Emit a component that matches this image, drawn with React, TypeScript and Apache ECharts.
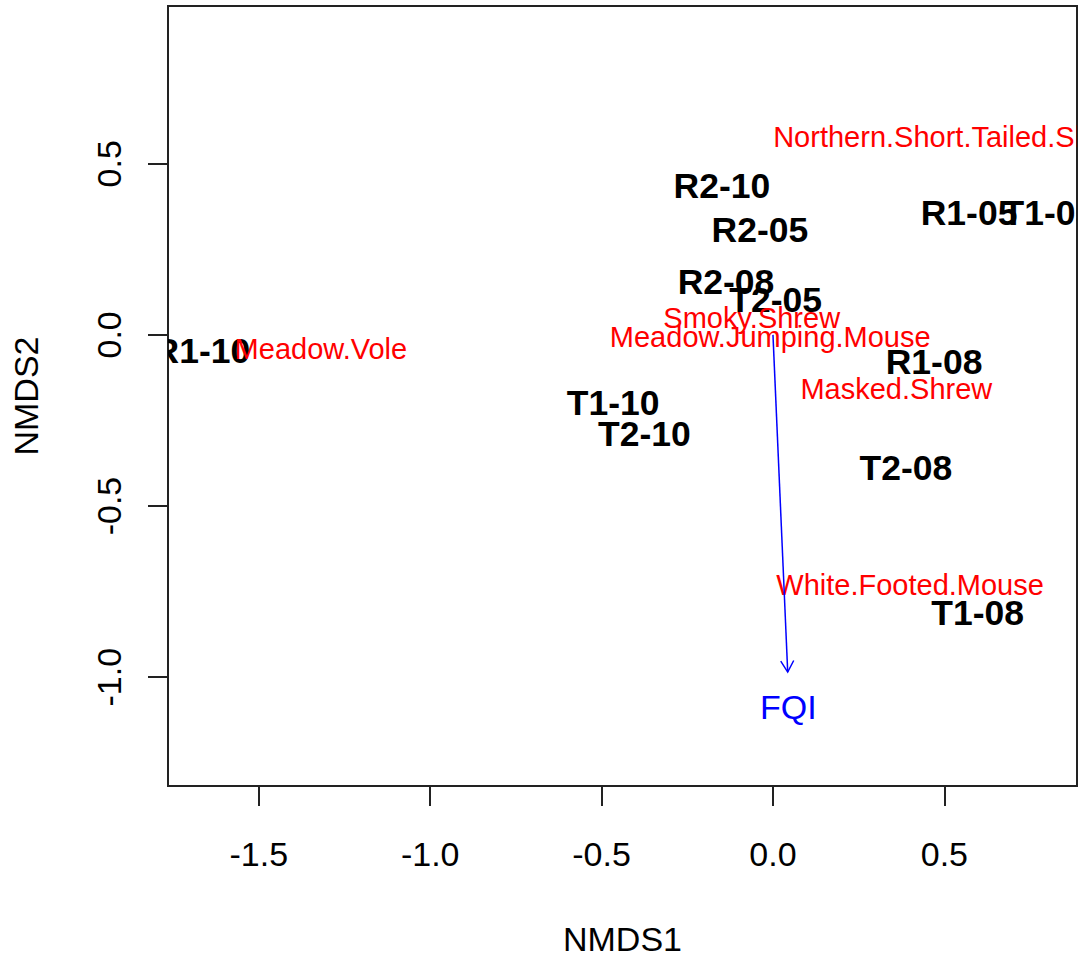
import React, { useEffect, useRef } from 'react';
import * as echarts from 'echarts';

// NMDS site scores (bold black labels)
const siteNames = ['R1-05', 'R1-08', 'R1-10', 'R2-05', 'R2-08', 'R2-10', 'T1-05', 'T1-08', 'T1-10', 'T2-05', 'T2-08', 'T2-10'];
const siteNMDS1 = [0.572, 0.470, -1.666, -0.038, -0.137, -0.149, 0.805, 0.597, -0.466, 0.008, 0.388, -0.375];
const siteNMDS2 = [0.356, -0.079, -0.047, 0.307, 0.155, 0.436, 0.356, -0.813, -0.198, 0.102, -0.388, -0.290];

// Species scores (red labels)
const speciesNames = ['Meadow.Vole', 'Smoky.Shrew', 'Meadow.Jumping.Mouse', 'Masked.Shrew', 'Northern.Short.Tailed.Shrew', 'White.Footed.Mouse'];
const speciesNMDS1 = [-1.319, -0.062, -0.008, 0.360, 0.532, 0.400];
const speciesNMDS2 = [-0.041, 0.049, -0.006, -0.159, 0.579, -0.731];

// Fitted environmental vector
const vectorNames = ['FQI'];
const vectorStart = [0, 0];
const vectorEnd = [0.043, -0.985];
const vectorLabelNMDS1 = [0.045];
const vectorLabelNMDS2 = [-1.087];

// Axes
const xTicks = [-1.5, -1.0, -0.5, 0.0, 0.5];
const yTicks = [-1.0, -0.5, 0.0, 0.5];
const xRange = [-1.765, 0.887];
const yRange = [-1.318, 0.961];

const FONT = '"Liberation Sans", Arial, Helvetica, sans-serif';

function labelSeries(names: string[], xs: number[], ys: number[], color: string, size: number, weight: string) {
  return {
    type: 'custom',
    coordinateSystem: 'cartesian2d',
    clip: true,
    silent: true,
    data: xs.map((x, i) => [x, ys[i]]),
    encode: { x: 0, y: 1 },
    renderItem: (params: any, api: any) => {
      const p = api.coord([api.value(0), api.value(1)]);
      return {
        type: 'text',
        x: p[0],
        y: p[1],
        style: {
          text: names[params.dataIndex],
          fill: color,
          fontSize: size,
          fontWeight: weight,
          fontFamily: FONT,
          align: 'center',
          verticalAlign: 'middle',
        },
      };
    },
  };
}

export default function App() {
  const ref = useRef<HTMLDivElement>(null);

  useEffect(() => {
    if (!ref.current) return;
    const chart = echarts.init(ref.current, null, { renderer: 'svg' });

    const axisText = { fontSize: 34, fontFamily: FONT, color: '#000', lineHeight: 34 };
    const tickStyle = { color: '#222', width: 2 };

    chart.setOption({
      animation: false,
      backgroundColor: '#fff',
      grid: {
        left: 168,
        right: 7,
        top: 6,
        bottom: 172,
        show: true,
        borderColor: '#222',
        borderWidth: 2,
        outerBoundsMode: 'none',
      },
      xAxis: {
        type: 'value',
        min: xRange[0],
        max: xRange[1],
        name: 'NMDS1',
        nameLocation: 'middle',
        nameGap: 136,
        nameTextStyle: axisText,
        splitLine: { show: false },
        axisLine: { show: false, onZero: false },
        axisTick: { show: true, inside: false, length: 20, customValues: xTicks, lineStyle: tickStyle },
        axisLabel: { ...axisText, customValues: xTicks, margin: 51, formatter: (v: number) => v.toFixed(1) },
      },
      yAxis: {
        type: 'value',
        min: yRange[0],
        max: yRange[1],
        name: 'NMDS2',
        nameLocation: 'middle',
        nameGap: 125,
        nameTextStyle: axisText,
        splitLine: { show: false },
        axisLine: { show: false, onZero: false },
        axisTick: { show: true, inside: false, length: 20, customValues: yTicks, lineStyle: tickStyle },
        axisLabel: { ...axisText, customValues: yTicks, rotate: 90, margin: 42, formatter: (v: number) => v.toFixed(1) },
      },
      series: [
        labelSeries(siteNames, siteNMDS1, siteNMDS2, '#000000', 35.5, 'bold'),
        labelSeries(speciesNames, speciesNMDS1, speciesNMDS2, '#FF0000', 29, 'normal'),
        {
          type: 'custom',
          coordinateSystem: 'cartesian2d',
          clip: true,
          silent: true,
          data: [[vectorStart[0], vectorStart[1], vectorEnd[0], vectorEnd[1]]],
          encode: { x: [0, 2], y: [1, 3] },
          renderItem: (params: any, api: any) => {
            const a = api.coord([api.value(0), api.value(1)]);
            const b = api.coord([api.value(2), api.value(3)]);
            const ang = Math.atan2(b[1] - a[1], b[0] - a[0]);
            const len = 13;
            const spread = Math.PI / 6;
            const h1 = [b[0] - len * Math.cos(ang - spread), b[1] - len * Math.sin(ang - spread)];
            const h2 = [b[0] - len * Math.cos(ang + spread), b[1] - len * Math.sin(ang + spread)];
            return {
              type: 'group',
              children: [
                { type: 'line', shape: { x1: a[0], y1: a[1], x2: b[0], y2: b[1] }, style: { stroke: '#0000FF', lineWidth: 1.5 } },
                { type: 'polyline', shape: { points: [h1, b, h2] }, style: { stroke: '#0000FF', lineWidth: 1.5, fill: 'none' } },
              ],
            };
          },
        },
        labelSeries(vectorNames, vectorLabelNMDS1, vectorLabelNMDS2, '#0000FF', 34, 'normal'),
      ],
    });

    return () => chart.dispose();
  }, []);

  return <div ref={ref} style={{ position: 'absolute', left: 0, top: 0, width: 1084, height: 958 }} />;
}
